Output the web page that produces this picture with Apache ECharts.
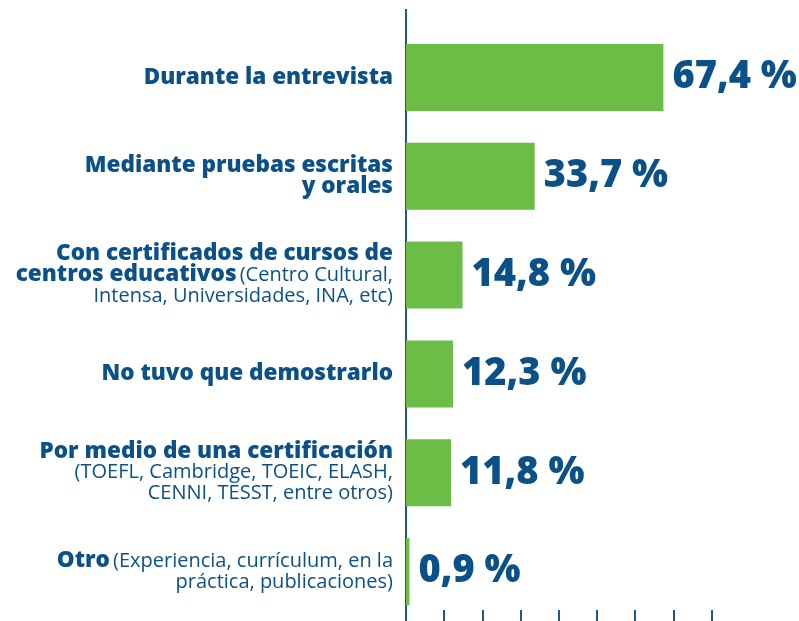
<!DOCTYPE html>
<html>
<head>
<meta charset="utf-8">
<script src="https://cdn.jsdelivr.net/npm/echarts@6/dist/echarts.min.js"></script>
<style>
html,body{margin:0;padding:0;background:#fff;}
#chart{width:799px;height:621px;}
</style>
</head>
<body>
<div id="chart"></div>
<script>
// Category labels (rich text: b = bold, r = regular)
const categories = [
  "{b|Durante la entrevista}",
  "{b|Mediante pruebas escritas}\n{b|y orales}",
  "{b|Con certificados de cursos de}\n{b|centros educativos} {r|(Centro Cultural,}\n{r|Intensa, Universidades, INA, etc)}",
  "{b|No tuvo que demostrarlo}",
  "{b|Por medio de una certificación}\n{r|(TOEFL, Cambridge, TOEIC, ELASH,}\n{r|CENNI, TESST, entre otros)}",
  "{b|Otro} {r|(Experiencia, currículum, en la}\n{r|práctica, publicaciones)}"
];
const values = [67.4, 33.7, 14.8, 12.3, 11.8, 0.9];
const xTicks = [0, 10, 20, 30, 40, 50, 60, 70, 80];

const BLUE = '#0c5088';
const AXIS = '#1a5a8c';
const GREEN = '#6cbd45';
const FONT = '"Open Sans", Lato, sans-serif';

const chart = echarts.init(document.getElementById('chart'), null, {renderer: 'canvas'});
chart.setOption({
  animation: false,
  backgroundColor: '#ffffff',
  grid: {left: 406, right: 87.5, top: 28, height: 598, containLabel: false},
  xAxis: {
    type: 'value',
    min: xTicks[0],
    max: xTicks[xTicks.length - 1],
    interval: xTicks[1] - xTicks[0],
    axisLine: {show: false},
    axisTick: {show: true, inside: true, length: 11, lineStyle: {color: AXIS, width: 2}},
    axisLabel: {show: false},
    splitLine: {show: false}
  },
  yAxis: {
    type: 'category',
    inverse: true,
    data: categories,
    axisLine: {show: true, lineStyle: {color: AXIS, width: 2}},
    axisTick: {show: false},
    axisLabel: {
      margin: 13,
      align: 'right',
      color: BLUE,
      fontFamily: FONT,
      rich: {
        b: {fontSize: 22.5, fontWeight: 800, color: BLUE, fontFamily: FONT, lineHeight: 21, align: 'right'},
        r: {fontSize: 20, fontWeight: 'normal', color: BLUE, fontFamily: FONT, lineHeight: 21, align: 'right'}
      }
    }
  },
  graphic: [{
    type: 'line',
    shape: {x1: 406, y1: 9, x2: 406, y2: 29},
    style: {stroke: AXIS, lineWidth: 2}
  }],
  series: [{
    type: 'bar',
    data: values,
    barWidth: 67,
    itemStyle: {color: GREEN},
    label: {
      show: true,
      position: 'right',
      distance: 9,
      color: BLUE,
      fontFamily: FONT,
      fontWeight: 800,
      fontSize: 38,
      formatter: p => p.value.toFixed(1).replace('.', ',') + ' %'
    }
  }]
});
</script>
</body>
</html>
